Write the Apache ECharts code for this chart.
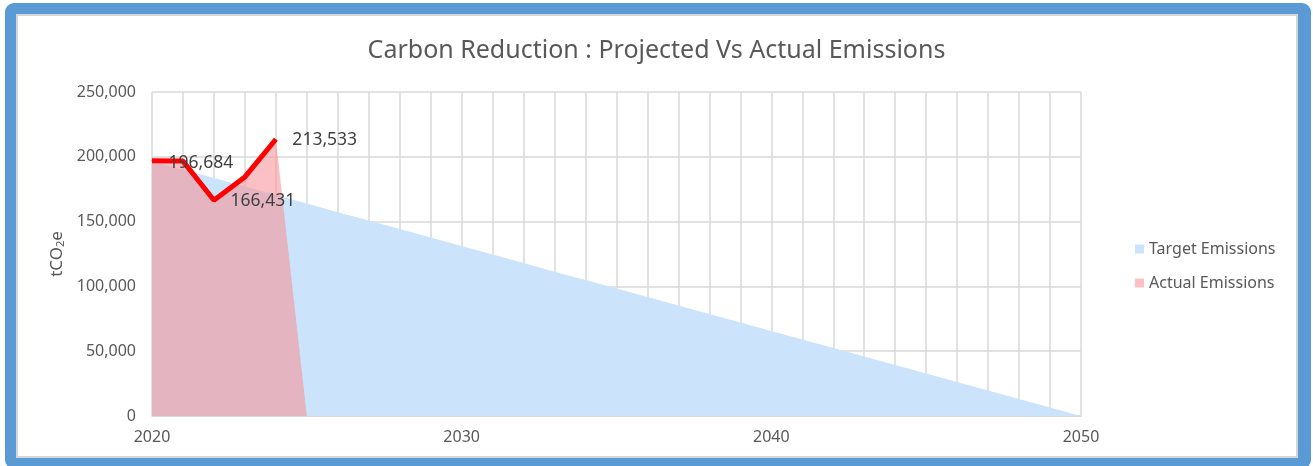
<!DOCTYPE html>
<html>
<head>
<meta charset="utf-8">
<script src="https://cdn.jsdelivr.net/npm/echarts@6/dist/echarts.min.js"></script>
<style>
  html, body { margin: 0; padding: 0; background: #fff; }
  #frame {
    position: absolute; left: 5px; top: 3px; width: 1306px; height: 466px;
    box-sizing: border-box; border: 11px solid #5b9bd5; border-right-width: 13px;
    border-radius: 9px; box-shadow: inset 0 0 0 2px #d6d6d6; background: #fff;
  }
  #chart { position: absolute; left: 0; top: 0; width: 1313px; height: 466px; }
</style>
</head>
<body>
<div id="frame"></div>
<div id="chart"></div>
<script>
// years 2020..2050
const years = ['2020','2021','2022','2023','2024','2025','2026','2027','2028','2029',
  '2030','2031','2032','2033','2034','2035','2036','2037','2038','2039',
  '2040','2041','2042','2043','2044','2045','2046','2047','2048','2049','2050']

// target (projected) emissions, tCO2e
const targetEmissions = [196700, 190100, 183600, 177000, 170500, 163900, 157300, 150800,
  144200, 137700, 131100, 124600, 118000, 111400, 104900, 98300, 91800, 85200, 78700,
  72100, 65600, 59000, 52400, 45900, 39300, 32800, 26200, 19700, 13100, 6600, 0]

// actual emissions, area drops to 0 after last reported year
const actualArea = [196900, 196684, 166431, 184500, 213533, 0]
const actualLine = [196900, 196684, 166431, 184500, 213533]

// which points get a data label
const labelledYears = ['2021', '2022', '2024']

const yTicks = [0, 50000, 100000, 150000, 200000, 250000]

const font = '"Noto Sans", "Open Sans", sans-serif'
const txt = '#595959'
const gridColor = '#d9d9d9'

const chart = echarts.init(document.getElementById('chart'))

const lineData = actualLine.map((v, i) => {
  if (labelledYears.indexOf(years[i]) < 0) return v
  return {
    value: v,
    label: {
      show: true,
      position: 'right',
      offset: years[i] === '2021' ? [-20, 2] : [11, 1]
    }
  }
})

chart.setOption({
  animation: false,
  textStyle: { fontFamily: font },
  title: {
    text: 'Carbon Reduction : Projected Vs Actual Emissions',
    left: 'center',
    top: 33,
    textStyle: { fontFamily: font, fontSize: 25, fontWeight: 'normal', color: txt }
  },
  legend: {
    orient: 'vertical',
    left: 1130,
    top: 236,
    itemWidth: 9,
    itemHeight: 9,
    itemGap: 18,
    icon: 'rect',
    data: ['Target Emissions', 'Actual Emissions'],
    textStyle: { fontFamily: font, fontSize: 16, color: txt }
  },
  grid: { left: 152, right: 232, top: 92, bottom: 50 },
  xAxis: {
    type: 'category',
    data: years,
    boundaryGap: false,
    axisLine: { lineStyle: { color: gridColor } },
    axisTick: { show: false },
    axisLabel: {
      interval: 9,
      color: txt,
      fontSize: 16,
      margin: 13,
      fontFamily: font
    },
    splitLine: { show: true, interval: 0, lineStyle: { color: gridColor, width: 1.5 } }
  },
  yAxis: {
    type: 'value',
    min: yTicks[0],
    max: yTicks[yTicks.length - 1],
    interval: 50000,
    name: 'tCO{sub|2}e',
    nameLocation: 'middle',
    nameRotate: 90,
    nameGap: 81,
    nameTextStyle: {
      color: txt,
      fontSize: 17,
      fontFamily: font,
      rich: {
        sub: { fontSize: 11, color: txt, fontFamily: font, padding: [7, 0, 0, 0] }
      }
    },
    axisLine: { show: false },
    axisTick: { show: false },
    axisLabel: {
      color: txt,
      fontSize: 16,
      margin: 16,
      fontFamily: font,
      formatter: v => v.toLocaleString('en-US')
    },
    splitLine: { lineStyle: { color: gridColor, width: 1.5 } }
  },
  series: [
    {
      name: 'Target Emissions',
      type: 'line',
      data: targetEmissions,
      color: '#cce4fb',
      showSymbol: false,
      lineStyle: { width: 0 },
      areaStyle: { color: '#cce4fb', opacity: 1 },
      z: 1
    },
    {
      name: 'Actual Emissions',
      type: 'line',
      data: actualArea,
      color: 'rgba(246,144,150,0.57)',
      showSymbol: false,
      lineStyle: { width: 0 },
      areaStyle: { color: 'rgba(246,144,150,0.57)', opacity: 1 },
      z: 2
    },
    {
      name: 'Actual Line',
      type: 'line',
      data: lineData,
      color: '#ff0000',
      symbol: 'circle',
      symbolSize: 1,
      showSymbol: true,
      showAllSymbol: true,
      itemStyle: { color: '#ff0000' },
      lineStyle: { width: 5, color: '#ff0000' },
      label: {
        color: '#404040',
        fontSize: 17.5,
        fontFamily: font,
        formatter: p => p.value.toLocaleString('en-US')
      },
      z: 3
    }
  ]
})
</script>
</body>
</html>
